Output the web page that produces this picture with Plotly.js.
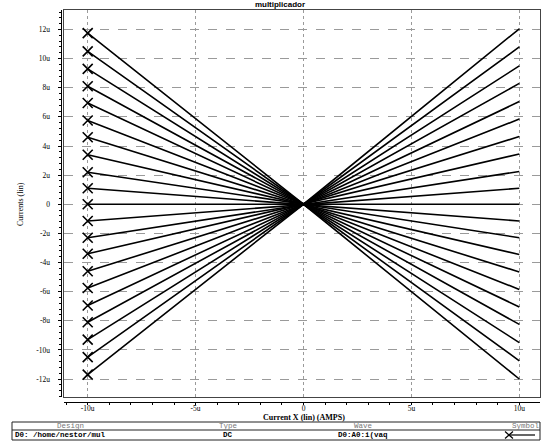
<!DOCTYPE html>
<html>
<head>
<meta charset="utf-8">
<script src="https://cdn.plot.ly/plotly-3.0.1.min.js"></script>
<style>html,body{margin:0;padding:0;background:#fff}#chart{width:542px;height:442px}</style>
</head>
<body>
<div id="chart"></div>
<script>
// Sweep points (X current, in uA)
const xSweep = [-10, 0, 10];
// Output currents (uA) at X = -10u, per trace (top to bottom at left)
const valsAtLeft  = [11.75, 10.5, 9.3, 8.1, 6.95, 5.75, 4.6, 3.4, 2.2, 1.1, 0, -1.15, -2.3, -3.4, -4.6, -5.75, -6.95, -8.1, -9.3, -10.5, -11.7];
// Output currents (uA) at X = 0
const valsAtZero  = [0, 0, 0, 0, 0, 0, 0, 0, 0, 0, 0, 0, 0, 0, 0, 0, 0, 0, 0, 0, 0];
// Output currents (uA) at X = +10u, same traces
const valsAtRight = [-12.0, -10.75, -9.5, -8.25, -7.05, -5.85, -4.65, -3.45, -2.3, -1.15, 0, 1.1, 2.25, 3.45, 4.65, 5.85, 7.05, 8.3, 9.5, 10.8, 12.05];

const xTickVals = [-10, -5, 0, 5, 10];
const xTickText = ['-10u', '-5u', '0', '5u', '10u'];
const yTickVals = [12, 10, 8, 6, 4, 2, 0, -2, -4, -6, -8, -10, -12];
const yTickText = ['12u', '10u', '8u', '6u', '4u', '2u', '0', '-2u', '-4u', '-6u', '-8u', '-10u', '-12u'];

const W = 542, H = 442;
const M = {l: 58, r: 2, t: 10, b: 40};
const pw = W - M.l - M.r, ph = H - M.t - M.b;
const px = x => (x - M.l) / pw;
const py = y => (H - M.b - y) / ph;

const xRange = [-11.098, 10.936];
const yRange = [-13.236, 13.339];

const traces = [];
for (let i = 0; i < valsAtLeft.length; i++) {
  traces.push({
    x: xSweep,
    y: [valsAtLeft[i], valsAtZero[i], valsAtRight[i]],
    type: 'scatter', mode: 'lines',
    line: {color: '#000', width: 1.6},
    hoverinfo: 'skip', showlegend: false
  });
}
traces.push({
  x: valsAtLeft.map(() => xSweep[0]),
  y: valsAtLeft,
  type: 'scatter', mode: 'markers',
  marker: {symbol: 'x-thin-open', size: 10, line: {color: '#000', width: 1.6}, color: '#000'},
  hoverinfo: 'skip', showlegend: false
});
// invisible traces to activate the offset axes
traces.push({x: [0], y: [0], xaxis: 'x2', yaxis: 'y', mode: 'markers', marker: {opacity: 0}, showlegend: false, hoverinfo: 'skip'});
traces.push({x: [0], y: [0], xaxis: 'x', yaxis: 'y2', mode: 'markers', marker: {opacity: 0}, showlegend: false, hoverinfo: 'skip'});

const tickFont = {family: 'Liberation Serif, DejaVu Serif, serif', size: 7.5, color: '#000'};

const xDom = [px(64), px(539.5)];
const yDom = [py(397), 1];

const shapes = [
  {type: 'rect', xref: 'paper', yref: 'paper', x0: px(12), x1: px(540), y0: py(440), y1: py(422), line: {color: '#222', width: 1}},
  {type: 'line', xref: 'paper', yref: 'paper', x0: px(12), x1: px(540), y0: py(430), y1: py(430), line: {color: '#222', width: 1}},
  {type: 'line', xref: 'paper', yref: 'paper', x0: px(509), x1: px(535), y0: py(435), y1: py(435), line: {color: '#000', width: 1.2}},
  {type: 'line', xref: 'paper', yref: 'paper', x0: px(505), x1: px(513), y0: py(431.5), y1: py(438.5), line: {color: '#000', width: 1.2}},
  {type: 'line', xref: 'paper', yref: 'paper', x0: px(505), x1: px(513), y0: py(438.5), y1: py(431.5), line: {color: '#000', width: 1.2}}
];

const hdrFont = {family: 'Liberation Mono, DejaVu Sans Mono, monospace', size: 7.5, color: '#777'};
const rowFont = {family: 'Liberation Mono, DejaVu Sans Mono, monospace', size: 7.5, color: '#000', weight: 'bold'};
const ann = (x, y, text, font, xanchor) => ({xref: 'paper', yref: 'paper', x: px(x), y: py(y), text, showarrow: false, font, xanchor: xanchor || 'center', yanchor: 'middle'});

const annotations = [
  ann(303.5, 417.5, '<b>Current X (lin) (AMPS)</b>', {family: 'Liberation Serif, DejaVu Serif, serif', size: 8, color: '#000'}),
  Object.assign(ann(20, 204, 'Currents (lin)', {family: 'Liberation Serif, DejaVu Serif, serif', size: 8, color: '#000'}), {textangle: -90}),
  ann(70, 426, 'Design', hdrFont),
  ann(228, 426, 'Type', hdrFont),
  ann(363, 426, 'Wave', hdrFont),
  ann(526, 426, 'Symbol', hdrFont),
  ann(13, 435, 'D0: /home/nestor/mul', rowFont, 'left'),
  ann(228, 435, 'DC', rowFont),
  ann(363, 435, 'D0:A0:i(vaq', rowFont)
];

const layout = {
  width: W, height: H,
  margin: M,
  paper_bgcolor: '#fff', plot_bgcolor: '#fff',
  showlegend: false,
  title: {text: '<b>multiplicador</b>', x: 280 / W, xref: 'container', xanchor: 'center', y: 0.996, yref: 'container', yanchor: 'top', pad: {t: 0},
          font: {family: 'Liberation Sans, Arial, sans-serif', size: 8, color: '#000'}},
  xaxis: {
    domain: xDom, range: xRange, anchor: 'y',
    tickvals: xTickVals, showticklabels: false, ticks: '',
    showgrid: true, gridcolor: '#9a9a9a', gridwidth: 1, griddash: 'dot',
    zeroline: false, showline: true, mirror: true, linecolor: '#444', linewidth: 1.2
  },
  yaxis: {
    domain: yDom, range: yRange, anchor: 'x',
    tickvals: yTickVals, showticklabels: false, ticks: '',
    showgrid: true, gridcolor: '#9a9a9a', gridwidth: 1, griddash: 'dash',
    zeroline: false, showline: true, mirror: true, linecolor: '#444', linewidth: 1.2
  },
  xaxis2: {
    overlaying: 'x', anchor: 'free', position: 0, range: xRange,
    tickvals: xTickVals, ticktext: xTickText, tickfont: {family: 'Liberation Serif, DejaVu Serif, serif', size: 7.5, color: '#000'},
    ticks: 'outside', ticklen: 2, tickwidth: 1, tickcolor: '#000', ticklabelstandoff: -3,
    minor: {tickmode: 'linear', tick0: 0, dtick: 1, ticks: 'outside', ticklen: 2, tickcolor: '#000', showgrid: false},
    showgrid: false, zeroline: false, showline: true, linecolor: '#000', linewidth: 1
  },
  yaxis2: {
    overlaying: 'y', anchor: 'free', position: px(60.5), range: yRange,
    tickvals: yTickVals, ticktext: yTickText, tickfont: tickFont,
    ticks: 'outside', ticklen: 3, tickwidth: 1, tickcolor: '#000', ticklabelstandoff: 6,
    minor: {tickmode: 'linear', tick0: 0, dtick: 0.4, ticks: 'outside', ticklen: 2, tickcolor: '#000', showgrid: false},
    showgrid: false, zeroline: false, showline: true, linecolor: '#000', linewidth: 1
  },
  shapes, annotations
};

Plotly.newPlot('chart', traces, layout, {staticPlot: true, displayModeBar: false});
</script>
</body>
</html>
